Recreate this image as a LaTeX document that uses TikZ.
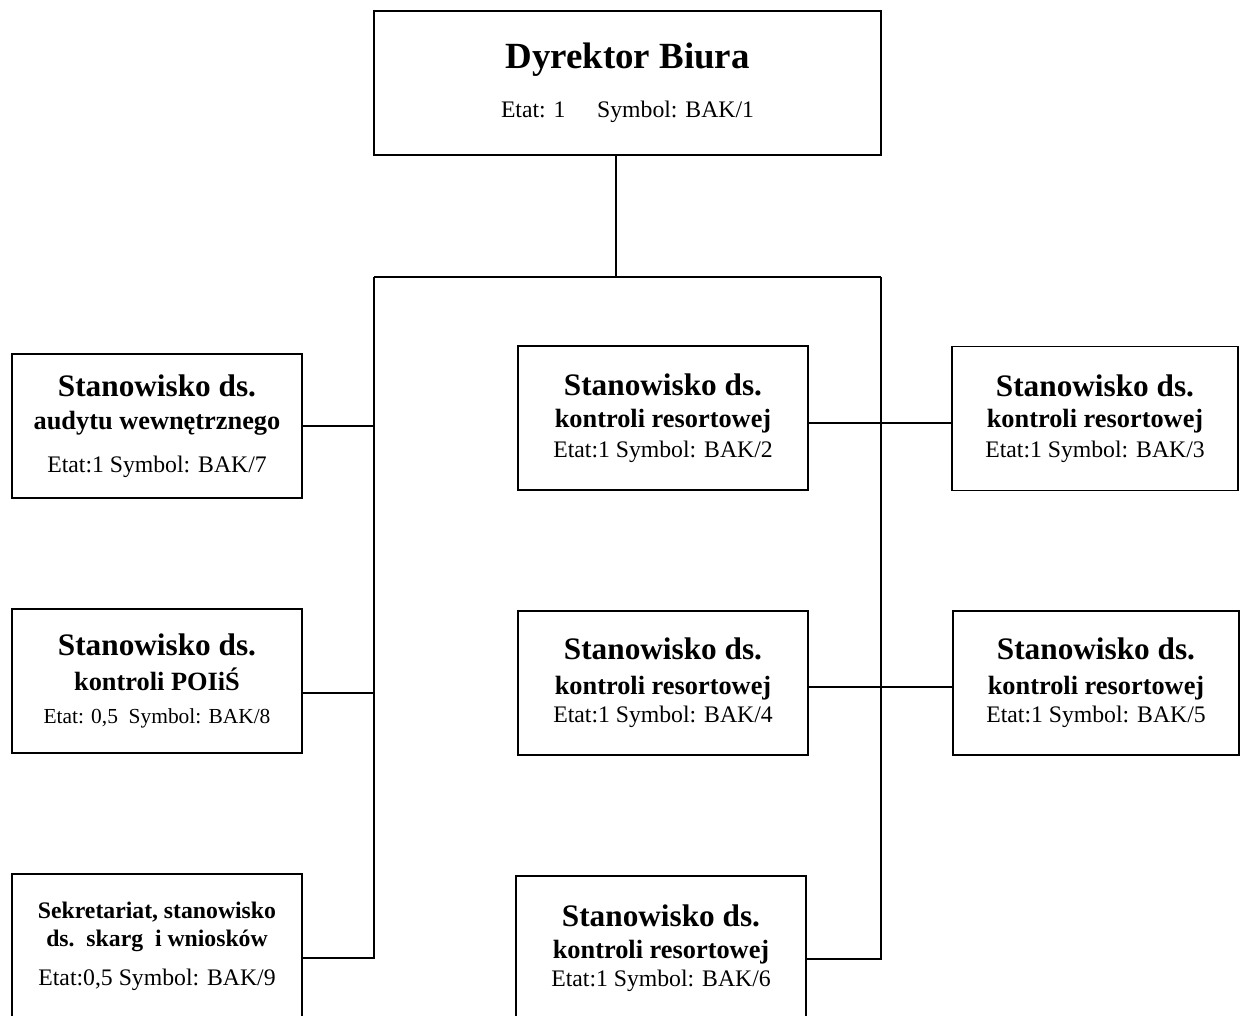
\documentclass[tikz,border=0pt]{standalone}
\usepackage{fontspec}
\setmainfont{Liberation Serif}
\usepackage{tikz}

\tikzset{
  box/.style={draw, line width=1pt, minimum width=5.8cm, minimum height=2.88cm,
    align=center, inner sep=0pt, font=\fontsize{13.5}{16}\selectfont},
  conn/.style={line width=1pt}
}
\newcommand{\stan}{{\fontsize{17.8}{16}\selectfont\bfseries Stanowisko ds.}}
\newcommand{\kres}{{\fontsize{15}{16}\selectfont\bfseries kontroli resortowej}}

\begin{document}
\begin{tikzpicture}[x=0.02cm, y=-0.02cm]
        \useasboundingbox (0,0) rectangle (1240,1015);

        \node[box, minimum width=10.14cm] (dyr) at (627.5,83)
            {{\fontsize{21}{16}\selectfont\bfseries Dyrektor Biura}\\[12pt] Etat: 1\hspace{18pt}Symbol: BAK/1};

        \node[box] (aud) at (157,426)
            {\stan\\[3pt] {\fontsize{15}{16}\selectfont\bfseries audytu wewnętrznego}\\[8pt] Etat:1 Symbol: BAK/7};
        \node[box] (pois) at (157,681)
            {\stan\\[4pt] {\fontsize{15}{16}\selectfont\bfseries kontroli POIiŚ}\\[3pt] {\fontsize{12.2}{16}\selectfont Etat: 0,5\ \ Symbol: BAK/8}};
        \node[box] (sek) at (157,946)
            {{\bfseries Sekretariat, stanowisko}\\ {\bfseries ds.\ \ skarg\ \ i wniosków}\\[6pt] Etat:0,5 Symbol: BAK/9};

        \node[box] (k2) at (663,418) {\stan\\[2pt] \kres\\[1pt] Etat:1 Symbol: BAK/2};
        \node[box] (k4) at (663,683) {\stan\\[4pt] \kres\\ Etat:1 Symbol: BAK/4};
        \node[box] (k6) at (661,948) {\stan\\[2pt] \kres\\ Etat:1 Symbol: BAK/6};
        \node[box, minimum width=5.72cm] (k3) at (1095,418.5) {\stan\\[2pt] \kres\\[1pt] Etat:1 Symbol: BAK/3};
        \node[box, minimum width=5.72cm] (k5) at (1096,683) {\stan\\[4pt] \kres\\ Etat:1 Symbol: BAK/5};

        \coordinate (mid) at (616,277);
        \coordinate (lewa) at (374,277);
        \coordinate (prawa) at (881,277);
        \coordinate (c8) at ([yshift=-0.24cm]pois.east);
        \coordinate (c9) at ([yshift=-0.24cm]sek.east);
        \coordinate (c2) at ([yshift=-0.1cm]k2.east);
        \coordinate (c4) at ([yshift=-0.08cm]k4.east);
        \coordinate (c6) at ([yshift=-0.22cm]k6.east);

        \draw[conn] (dyr.south -| mid) -- (mid);
        \draw[conn] (lewa) -- (prawa);
        \draw[conn] (lewa) |- (c9);
        \draw[conn] (prawa) |- (c6);
        \draw[conn] (aud.east) -- (aud.east -| lewa);
        \draw[conn] (c8) -- (c8 -| lewa);
        \draw[conn] (c2) -- (c2 -| k3.west);
        \draw[conn] (c4) -- (c4 -| k5.west);
    \end{tikzpicture}
\end{document}
